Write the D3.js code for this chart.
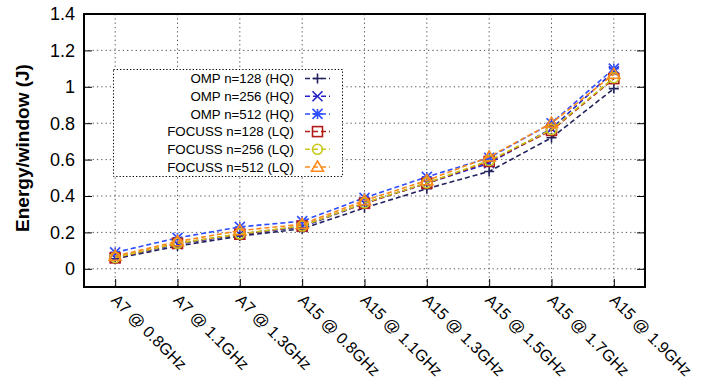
<!DOCTYPE html>
<html>
<head>
<meta charset="utf-8">
<script src="https://cdn.jsdelivr.net/npm/d3@7"></script>
<style>
  html, body { margin: 0; padding: 0; background: #fff; }
  svg { display: block; font-family: "Liberation Sans", Arial, Helvetica, sans-serif; }
</style>
</head>
<body>
<svg id="chart" width="705" height="381"></svg>
<script>
// ---- data ----
const categories = ["A7 @ 0.8GHz", "A7 @ 1.1GHz", "A7 @ 1.3GHz", "A15 @ 0.8GHz", "A15 @ 1.1GHz",
                    "A15 @ 1.3GHz", "A15 @ 1.5GHz", "A15 @ 1.7GHz", "A15 @ 1.9GHz"];
const seriesNames = ["OMP n=128 (HQ)", "OMP n=256 (HQ)", "OMP n=512 (HQ)",
                     "FOCUSS n=128 (LQ)", "FOCUSS n=256 (LQ)", "FOCUSS n=512 (LQ)"];
const omp128    = [0.055, 0.125, 0.180, 0.220, 0.335, 0.440, 0.535, 0.720, 0.990];
const omp256    = [0.060, 0.135, 0.190, 0.230, 0.360, 0.470, 0.580, 0.770, 1.085];
const omp512    = [0.090, 0.170, 0.230, 0.262, 0.390, 0.505, 0.610, 0.800, 1.100];
const focuss128 = [0.060, 0.140, 0.190, 0.235, 0.360, 0.470, 0.590, 0.760, 1.045];
const focuss256 = [0.062, 0.140, 0.192, 0.235, 0.362, 0.472, 0.595, 0.765, 1.050];
const focuss512 = [0.070, 0.150, 0.210, 0.245, 0.375, 0.485, 0.615, 0.800, 1.070];
const yTicks = [0, 0.2, 0.4, 0.6, 0.8, 1, 1.2, 1.4];
const yLabel = "Energy/window (J)";

const seriesValues = [omp128, omp256, omp512, focuss128, focuss256, focuss512];
const colors  = ["#22225e", "#2323c8", "#2e4dff", "#b31b1b", "#c8c81e", "#ff8a1c"];
const symbols = ["plus", "cross", "star", "square", "circle", "triangle"];

// ---- layout ----
const svg = d3.select("#chart");
const L = 84, R = 645, T = 14, B = 287;

const x = d3.scalePoint().domain(categories).range([L, R]).padding(0.5);
const y = d3.scaleLinear().domain([-0.1, 1.4]).range([B, T]);

// grid
const grid = svg.append("g");
grid.selectAll("line.hg").data(yTicks.filter(v => v < 1.4)).join("line")
  .attr("x1", L).attr("x2", R).attr("y1", d => y(d)).attr("y2", d => y(d))
  .attr("stroke", "#555").attr("stroke-width", 1).attr("stroke-dasharray", "1.3,3");
grid.selectAll("line.vg").data(categories).join("line")
  .attr("x1", d => x(d)).attr("x2", d => x(d)).attr("y1", T).attr("y2", B)
  .attr("stroke", "#555").attr("stroke-width", 1).attr("stroke-dasharray", "1.3,3");

// axes (ticks drawn inward, gnuplot style)
const yAxisL = d3.axisRight(y).tickValues(yTicks).tickSize(8).tickFormat("");
svg.append("g").attr("transform", `translate(${L},0)`).call(yAxisL)
  .call(g => g.select(".domain").remove())
  .selectAll("line").attr("stroke", "#000");
const yAxisR = d3.axisLeft(y).tickValues(yTicks).tickSize(8).tickFormat("");
svg.append("g").attr("transform", `translate(${R},0)`).call(yAxisR)
  .call(g => g.select(".domain").remove())
  .selectAll("line").attr("stroke", "#000");
const xAxis = d3.axisTop(x).tickSize(8).tickFormat("");
svg.append("g").attr("transform", `translate(0,${B})`).call(xAxis)
  .call(g => g.select(".domain").remove())
  .selectAll("line").attr("stroke", "#000");

// y tick labels
svg.append("g").selectAll("text").data(yTicks).join("text")
  .attr("x", 75).attr("y", d => y(d)).attr("dy", "0.36em")
  .attr("text-anchor", "end").attr("font-size", 18).attr("fill", "#000")
  .text(d => d3.format("~g")(d));

// x tick labels (rotated)
svg.append("g").selectAll("text").data(categories).join("text")
  .attr("transform", d => `translate(${x(d) - 5},${301}) rotate(45)`)
  .attr("text-anchor", "start").attr("font-size", 16).attr("fill", "#000")
  .text(d => d);

// y label
svg.append("text")
  .attr("transform", `translate(29,148) rotate(-90)`)
  .attr("text-anchor", "middle").attr("font-size", 19).attr("font-weight", "bold")
  .attr("fill", "#000").text(yLabel);

// marker drawing
function drawMarker(g, type, cx, cy, color) {
  const s = 5;
  if (type === "plus") {
    g.append("path").attr("d", `M${cx - s},${cy}H${cx + s}M${cx},${cy - s}V${cy + s}`)
      .attr("stroke", color).attr("stroke-width", 1.6).attr("fill", "none");
  } else if (type === "cross") {
    g.append("path").attr("d", `M${cx - s},${cy - s}L${cx + s},${cy + s}M${cx - s},${cy + s}L${cx + s},${cy - s}`)
      .attr("stroke", color).attr("stroke-width", 1.6).attr("fill", "none");
  } else if (type === "star") {
    g.append("path").attr("d",
      `M${cx - s},${cy}H${cx + s}M${cx},${cy - s}V${cy + s}M${cx - s},${cy - s}L${cx + s},${cy + s}M${cx - s},${cy + s}L${cx + s},${cy - s}`)
      .attr("stroke", color).attr("stroke-width", 1.6).attr("fill", "none");
  } else if (type === "square") {
    g.append("rect").attr("x", cx - 5).attr("y", cy - 5).attr("width", 10).attr("height", 10)
      .attr("stroke", color).attr("stroke-width", 1.6).attr("fill", "none");
  } else if (type === "circle") {
    g.append("circle").attr("cx", cx).attr("cy", cy).attr("r", 5)
      .attr("stroke", color).attr("stroke-width", 1.6).attr("fill", "none");
  } else if (type === "triangle") {
    const h = 6;
    g.append("path").attr("d", `M${cx},${cy - h}L${cx + h},${cy + h * 0.7}L${cx - h},${cy + h * 0.7}Z`)
      .attr("stroke", color).attr("stroke-width", 1.6).attr("fill", "none");
  }
}

// series
const line = d3.line().x((d, i) => x(categories[i])).y(d => y(d));
seriesValues.forEach((vals, si) => {
  const g = svg.append("g");
  g.append("path").datum(vals).attr("d", line)
    .attr("fill", "none").attr("stroke", colors[si]).attr("stroke-width", 1.6)
    .attr("stroke-dasharray", "5,3");
  vals.forEach((v, i) => drawMarker(g, symbols[si], x(categories[i]), y(v), colors[si]));
});

// legend
const lg = svg.append("g");
lg.append("rect").attr("x", 113.5).attr("y", 69.5).attr("width", 229).attr("height", 107)
  .attr("fill", "#fff").attr("stroke", "#000").attr("stroke-width", 1).attr("stroke-dasharray", "1.3,2");
seriesNames.forEach((name, i) => {
  const cy = 78.5 + i * 17.7;
  lg.append("text").attr("x", 294).attr("y", cy).attr("dy", "0.36em")
    .attr("text-anchor", "end").attr("font-size", 13.3).attr("fill", "#000").text(name);
  lg.append("line").attr("x1", 305).attr("x2", 330).attr("y1", cy).attr("y2", cy)
    .attr("stroke", colors[i]).attr("stroke-width", 1.5).attr("stroke-dasharray", "5,3");
  drawMarker(lg, symbols[i], 317.5, cy, colors[i]);
});

// border
svg.append("rect").attr("x", L).attr("y", T).attr("width", R - L).attr("height", B - T)
  .attr("fill", "none").attr("stroke", "#000").attr("stroke-width", 2);
</script>
</body>
</html>
